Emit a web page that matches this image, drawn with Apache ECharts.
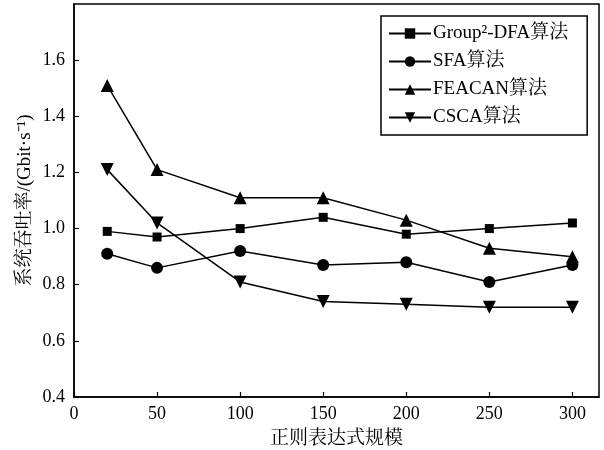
<!DOCTYPE html>
<html>
<head>
<meta charset="utf-8">
<script src="https://cdn.jsdelivr.net/npm/echarts@6/dist/echarts.min.js"></script>
<style>
html,body{margin:0;padding:0;background:#fff;}
#main{width:604px;height:450px;}
</style>
</head>
<body>
<div id="main"></div>
<script>
var xValues = [20, 50, 100, 150, 200, 250, 300];
var groupDfa = [0.99, 0.97, 1.00, 1.04, 0.98, 1.00, 1.02];
var sfa = [0.91, 0.86, 0.92, 0.87, 0.88, 0.81, 0.87];
var feacan = [1.51, 1.21, 1.11, 1.11, 1.03, 0.93, 0.90];
var csca = [1.21, 1.02, 0.81, 0.74, 0.73, 0.72, 0.72];
var seriesNames = ['Group²-DFA算法', 'SFA算法', 'FEACAN算法', 'CSCA算法'];

var font = "'Liberation Serif', 'Noto Serif CJK SC', 'Noto Sans CJK SC', serif";

function pairs(arr) {
	return xValues.map(function(x, i) { return [x, arr[i]]; });
}

function makeSeries(name, arr, symbol, size, rotate) {
	return {
		name: name,
		type: 'line',
		data: pairs(arr),
		symbol: symbol,
		symbolSize: size,
		symbolRotate: rotate || 0,
		showAllSymbol: true,
		lineStyle: { color: '#000', width: 1.5 },
		itemStyle: { color: '#000', borderWidth: 0 },
		emphasis: { disabled: true }
	};
}

var chart = echarts.init(document.getElementById('main'));
var option = {
	animation: false,
	textStyle: { fontFamily: font },
	grid: {
		left: 74, right: 5, top: 4, bottom: 53,
		outerBoundsMode: 'none',
		show: true, borderColor: '#000', borderWidth: 1.5
	},
	legend: {
		orient: 'vertical',
		left: 381, top: 16,
		padding: [8, 19, 8, 7],
		itemWidth: 42,
		itemHeight: 13,
		itemGap: 9,
		borderColor: '#000',
		borderWidth: 1.5,
		textStyle: { fontFamily: font, fontSize: 19, color: '#000', padding: [0, 0, 0, -3] },
		data: seriesNames
	},
	xAxis: {
		type: 'value',
		min: 0, max: 316, interval: 50,
		name: '正则表达式规模',
		nameLocation: 'middle',
		nameGap: 33,
		nameMoveOverlap: false,
		nameTextStyle: { fontFamily: font, fontSize: 19, color: '#000' },
		axisLine: { lineStyle: { color: '#000', width: 1.5 } },
		axisTick: { inside: true, length: 5, lineStyle: { color: '#000', width: 1.2 } },
		axisLabel: { color: '#000', fontSize: 18, margin: 8, showMaxLabel: false },
		splitLine: { show: false }
	},
	yAxis: {
		type: 'value',
		min: 0.4, max: 1.8, interval: 0.2,
		name: '系统吞吐率/(Gbit·s⁻¹)',
		nameLocation: 'middle',
		nameGap: 39,
		nameMoveOverlap: false,
		nameTextStyle: { fontFamily: font, fontSize: 19, color: '#000' },
		axisLine: { lineStyle: { color: '#000', width: 1.5 } },
		axisTick: { inside: true, length: 5, lineStyle: { color: '#000', width: 1.2 } },
		axisLabel: {
			color: '#000', fontSize: 18, margin: 9, showMaxLabel: false,
			formatter: function(v) { return v.toFixed(1); }
		},
		splitLine: { show: false }
	},
	series: [
		makeSeries(seriesNames[0], groupDfa, 'rect', 9),
		makeSeries(seriesNames[1], sfa, 'circle', 12),
		makeSeries(seriesNames[2], feacan, 'triangle', 13),
		makeSeries(seriesNames[3], csca, 'triangle', 13, 180)
	]
};
chart.setOption(option);
</script>
</body>
</html>
